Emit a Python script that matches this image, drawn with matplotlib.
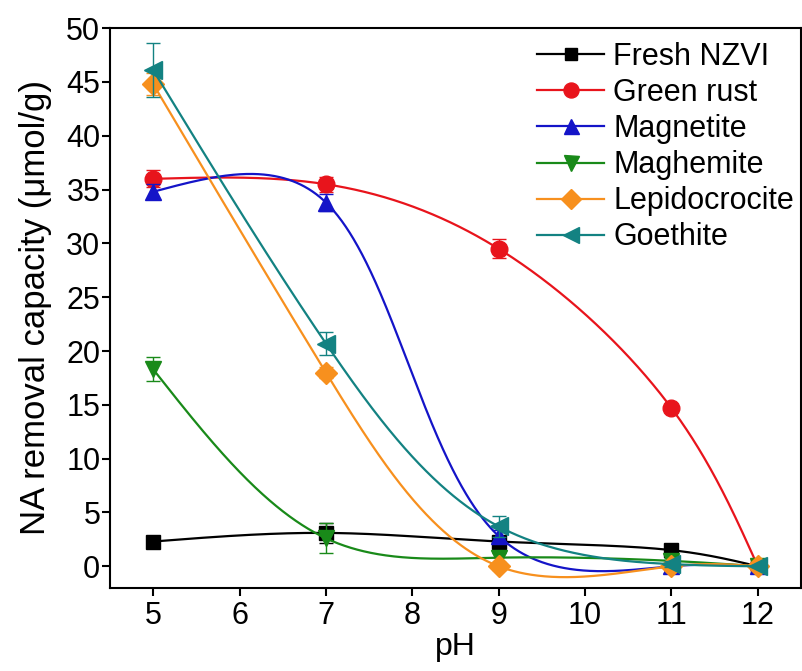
import matplotlib
matplotlib.use("Agg")
import matplotlib.pyplot as plt
import numpy as np

plt.rcParams['font.family'] = ['Liberation Sans', 'DejaVu Sans']

# Datos
ph = [5, 7, 9, 11, 12]
fresh_nzvi = [2.3, 3.1, 2.3, 1.5, 0.0]
green_rust = [36.0, 35.5, 29.5, 14.7, 0.0]
magnetite = [34.8, 33.8, 2.8, 0.0, 0.0]
maghemite = [18.3, 2.6, 0.8, 0.5, 0.0]
lepidocrocite = [44.8, 18.0, 0.0, 0.0, 0.0]
goethite = [46.1, 20.7, 3.7, 0.2, 0.0]

err_fresh = [0.3, 0.9, 0.4, 0.3, 0.1]
err_green = [0.8, 0.7, 0.9, 0.3, 0.1]
err_magnetite = [0.7, 0.8, 0.6, 0.3, 0.1]
err_maghemite = [1.1, 1.4, 0.4, 0.3, 0.1]
err_lepido = [1.0, 0.5, 0.3, 0.3, 0.1]
err_goethite = [2.5, 1.1, 1.0, 0.3, 0.1]

nombres = ['Fresh NZVI', 'Green rust', 'Magnetite', 'Maghemite', 'Lepidocrocite', 'Goethite']
series = [fresh_nzvi, green_rust, magnetite, maghemite, lepidocrocite, goethite]
errores = [err_fresh, err_green, err_magnetite, err_maghemite, err_lepido, err_goethite]
colores = ['black', '#e8141c', '#1414c8', '#198a19', '#f7901e', '#138282']
marcadores = ['s', 'o', '^', 'v', 'D', '<']
tamanos = [10, 12, 12, 12, 11, 13]


def spline_nat(t, v, ts):
    # Spline cubico natural de v(t)
    n = len(t)
    h = np.diff(t)
    A = np.zeros((n, n))
    b = np.zeros(n)
    A[0, 0] = 1
    A[-1, -1] = 1
    for i in range(1, n - 1):
        A[i, i - 1] = h[i - 1]
        A[i, i] = 2 * (h[i - 1] + h[i])
        A[i, i + 1] = h[i]
        b[i] = 3 * ((v[i + 1] - v[i]) / h[i] - (v[i] - v[i - 1]) / h[i - 1])
    c = np.linalg.solve(A, b)
    out = np.zeros_like(ts)
    for i in range(n - 1):
        bi = (v[i + 1] - v[i]) / h[i] - h[i] * (2 * c[i] + c[i + 1]) / 3
        di = (c[i + 1] - c[i]) / (3 * h[i])
        m = (ts >= t[i]) & (ts <= t[i + 1])
        u = ts[m] - t[i]
        out[m] = v[i] + bi * u + c[i] * u ** 2 + di * u ** 3
    return out


def curva_spline(x, y, sx=87.0, sy=10.75):
    # Spline parametrico centripeto (en pixeles)
    x = np.asarray(x, float)
    y = np.asarray(y, float)
    d = np.sqrt(np.hypot(np.diff(x) * sx, np.diff(y) * sy))
    t = np.concatenate([[0], np.cumsum(d)])
    ts = np.linspace(0, t[-1], 800)
    return spline_nat(t, x, ts), spline_nat(t, y, ts)


fig = plt.figure(figsize=(8.03, 6.71), dpi=100)
ax = fig.add_axes([0.137, 0.124, 0.8605, 0.834])

for nombre, y, e, col, mk, ms in zip(nombres, series, errores, colores, marcadores, tamanos):
    cx, cy = curva_spline(ph, y)
    ax.plot(cx, cy, color=col, lw=1.6)
    ax.errorbar(ph, y, yerr=e, fmt='none', ecolor=col, elinewidth=1, capsize=5, capthick=1)
    ax.plot(ph, y, ls='none', marker=mk, ms=ms, color=col, mec=col)
    ax.plot([], [], color=col, lw=1.6, marker=mk, ms=ms * 0.9, label=nombre)

ax.set_xlim(4.5, 12.5)
ax.set_ylim(-2, 50)
ax.set_xticks([5, 6, 7, 8, 9, 10, 11, 12])
ax.set_yticks(range(0, 51, 5))
ax.tick_params(labelsize=22, width=1.5, length=6, direction='out')
ax.tick_params(axis='y', pad=1)
for s in ax.spines.values():
    s.set_linewidth(1.5)

ax.set_xlabel('pH', fontsize=23, labelpad=1)
ax.set_ylabel('NA removal capacity (\u03bcmol/g)', fontsize=25, labelpad=10)

ax.legend(loc='upper right', bbox_to_anchor=(1.01, 1.0), frameon=False, fontsize=22,
          handlelength=2.2, labelspacing=0.2, handletextpad=0.3, borderaxespad=0.05)

fig.savefig('out.png', dpi=100)
